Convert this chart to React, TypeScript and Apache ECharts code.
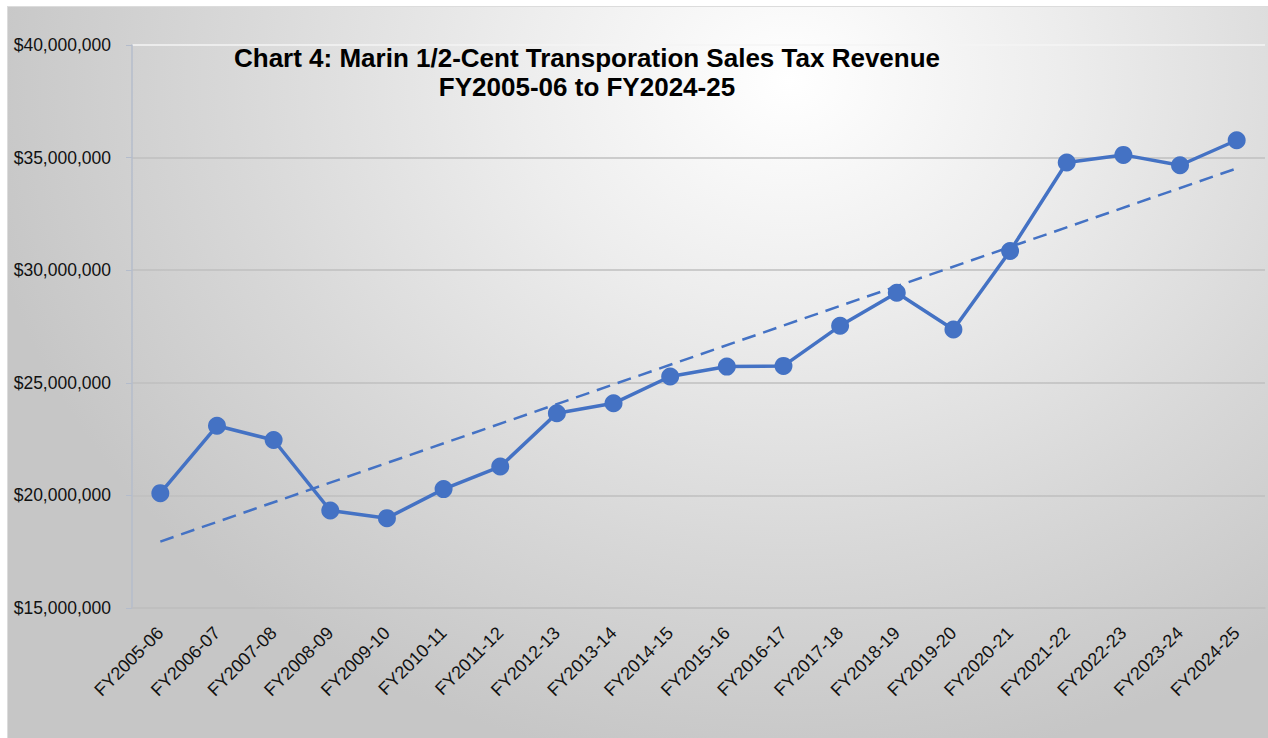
import React, { useEffect, useRef } from "react";
import * as echarts from "echarts";

const categories: string[] = [
  "FY2005-06", "FY2006-07", "FY2007-08", "FY2008-09", "FY2009-10",
  "FY2010-11", "FY2011-12", "FY2012-13", "FY2013-14", "FY2014-15",
  "FY2015-16", "FY2016-17", "FY2017-18", "FY2018-19", "FY2019-20",
  "FY2020-21", "FY2021-22", "FY2022-23", "FY2023-24", "FY2024-25",
];

const revenue: number[] = [
  20100000, 23090000, 22460000, 19330000, 18990000,
  20280000, 21280000, 23650000, 24090000, 25280000,
  25720000, 25750000, 27530000, 29000000, 27370000,
  30850000, 34780000, 35120000, 34660000, 35770000,
];

// Linear trendline end values
const trendStart = 17950000;
const trendEnd = 34520000;

const yMin = 15000000;
const yMax = 40000000;
const yInterval = 5000000;

const titleLines: string[] = [
  "Chart 4: Marin 1/2-Cent Transporation Sales Tax Revenue",
  "FY2005-06 to FY2024-25",
];

const FONT = "'Liberation Sans', Arial, Helvetica, sans-serif";
const BLUE = "#4472C4";

export default function App() {
  const ref = useRef<HTMLDivElement>(null);

  useEffect(() => {
    if (!ref.current) return;
    const chart = echarts.init(ref.current, undefined, { renderer: "svg" });
    const last = categories.length - 1;
    const trendData = categories.map((_, i) =>
      i === 0 ? trendStart : i === last ? trendEnd : null
    );
    chart.setOption({
      animation: false,
      backgroundColor: "transparent",
      title: {
        text: titleLines.join("\n"),
        left: 582,
        top: 38,
        textAlign: "center",
        textStyle: {
          fontFamily: FONT,
          fontSize: 26,
          fontWeight: "bold",
          color: "#000000",
          lineHeight: 29,
        },
      },
      grid: { left: 132, top: 45, right: 3, bottom: 130, containLabel: false },
      xAxis: {
        type: "category",
        data: categories,
        boundaryGap: true,
        axisLine: { show: true, lineStyle: { color: "#bfbfbf", width: 1.5 } },
        axisTick: { show: false },
        axisLabel: {
          interval: 0,
          rotate: 45,
          margin: 22,
          fontFamily: FONT,
          fontSize: 18,
          color: "#111111",
        },
      },
      yAxis: {
        type: "value",
        min: yMin,
        max: yMax,
        interval: yInterval,
        axisLine: { show: true, lineStyle: { color: "#b4bccb", width: 1.5 } },
        axisTick: { show: true, length: 6, lineStyle: { color: "#b4bccb", width: 1 } },
        axisLabel: {
          margin: 21,
          fontFamily: FONT,
          fontSize: 17.5,
          color: "#111111",
          formatter: (v: number) => "$" + v.toLocaleString("en-US"),
        },
        splitLine: {
          show: true,
          lineStyle: {
            color: ["#bfbfbf", "#bfbfbf", "#bfbfbf", "#bfbfbf", "#bfbfbf", "#f4f4f4"],
            width: 1.5,
          },
        },
      },
      series: [
        {
          name: "Linear trend",
          type: "line",
          data: trendData,
          connectNulls: true,
          showSymbol: false,
          symbol: "none",
          lineStyle: { color: BLUE, width: 2.5, type: [14, 8] },
          z: 1,
        },
        {
          name: "Revenue",
          type: "line",
          data: revenue,
          symbol: "circle",
          symbolSize: 18,
          itemStyle: { color: BLUE },
          lineStyle: { color: BLUE, width: 3.5 },
          z: 2,
        },
      ],
    });
    return () => chart.dispose();
  }, []);

  return (
    <div style={{ position: "fixed", left: 0, top: 0, width: 1268, height: 738, background: "#ffffff" }}>
      <div
        style={{
          position: "absolute",
          left: 7,
          top: 6,
          right: 0,
          bottom: 0,
          background:
            "radial-gradient(ellipse 65% 95% at 62% 10%, #ffffff 0%, #ededed 33%, #d8d8d8 68%, #c6c6c6 100%)",
          borderTop: "1px solid #dcdcdc",
          borderLeft: "1px solid #dcdcdc",
        }}
      />
      <div ref={ref} style={{ position: "absolute", left: 0, top: 0, width: 1268, height: 738 }} />
    </div>
  );
}
